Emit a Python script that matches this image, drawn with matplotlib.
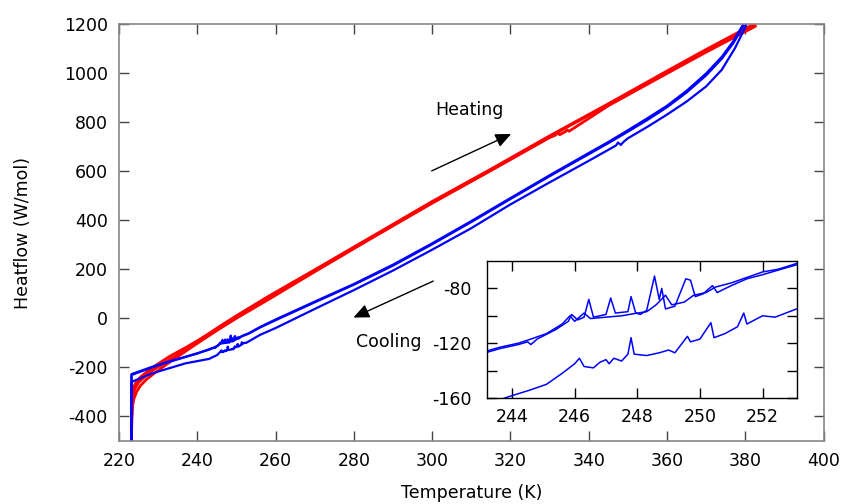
import matplotlib
matplotlib.use("Agg")
import matplotlib.pyplot as plt
from matplotlib.ticker import MultipleLocator, FixedLocator

plt.rcParams['font.family'] = ['DejaVu Sans']
plt.rcParams['axes.unicode_minus'] = False

# ---------------- data (temperature K, heatflow W/mol) ----------------
# heating runs (red)
heat_a_T = [223.2, 223.2, 223.4, 223.8, 224.5, 225.5, 227.0, 229.0, 232.0, 235.0, 238.0,
            241.0, 245.0, 250.0, 258.0, 270.0, 284.0, 300.0, 315.0, 330.0, 331.5, 332.0,
            332.6, 334.0, 334.5, 335.0, 345.0, 360.0, 370.0, 382.5]
heat_a_Q = [-500, -420, -365, -330, -300, -275, -250, -225, -190, -157, -124,
            -92, -50, 0, 75, 190, 322, 470, 603, 738, 748, 758,
            750, 762, 769, 764, 868, 1000, 1087, 1192]

heat_b_T = [223.2, 223.3, 223.5, 224.0, 225.0, 226.5, 228.5, 231.0, 234.0, 237.0, 240.0,
            243.0, 246.0, 250.0, 258.0, 270.0, 284.0, 300.0, 315.0, 330.0, 345.0, 360.0,
            370.0, 382.5]
heat_b_Q = [-500, -400, -330, -290, -262, -240, -214, -188, -158, -128, -97,
            -65, -33, 8, 85, 195, 325, 474, 606, 742, 872, 1005,
            1093, 1196]

heat_c_T = [223.2, 223.4, 223.8, 224.5, 225.5, 227.5, 230.0, 233.0, 237.0, 240.0,
            243.0, 246.0, 250.0, 258.0, 270.0, 284.0, 300.0, 315.0, 330.0, 345.0,
            360.0, 370.0, 382.0]
heat_c_Q = [-440, -330, -280, -258, -240, -214, -186, -155, -120, -92,
            -62, -30, 10, 88, 198, 328, 477, 609, 745, 876,
            1010, 1098, 1200]

# cooling runs (blue), listed in ascending temperature
cool_a_T = [223.2, 223.2, 225.0, 228.5, 232.0, 237.0, 240.0, 243.0, 243.6, 244.2, 244.5,
            244.6, 244.8, 245.4, 245.8, 245.9, 246.1, 246.3, 246.45, 246.6, 247.0,
            247.15, 247.3, 247.7, 247.8, 247.95, 248.1, 248.3, 248.55, 248.7, 248.78,
            248.9, 249.2, 249.55, 249.7, 249.85, 250.1, 250.4, 250.55, 251.0, 251.5,
            252.0, 252.6, 253.2, 256.0, 260.0, 270.0, 280.0, 290.0, 300.0, 310.0,
            320.0, 330.0, 340.0, 345.0, 350.0, 355.0, 360.0, 365.0, 370.0, 374.0,
            377.0, 379.0, 380.5]
cool_a_Q = [-500, -228, -218, -198, -180, -157, -143, -128, -124, -121, -119,
            -121, -117, -110, -104, -99, -103, -101, -88, -101, -99,
            -87, -98, -97, -86, -98, -99, -96, -71, -88, -80,
            -95, -93, -73, -74, -86, -84, -78, -83, -78, -73,
            -70, -66, -62, -38, -8, 65, 137, 215, 302, 393,
            487, 580, 670, 715, 762, 810, 862, 922, 992, 1060,
            1125, 1180, 1220]

cool_b_T = [223.2, 223.2, 225.0, 228.5, 232.0, 237.0, 240.0, 243.0, 243.6, 244.2, 244.6,
            245.1, 245.6, 245.85, 246.0, 246.3, 246.5, 247.0, 247.5, 248.0, 248.3,
            248.6, 248.9, 249.1, 249.5, 249.8, 250.2, 250.5, 251.0, 251.5, 252.0,
            252.5, 253.2, 256.0, 260.0, 270.0, 280.0, 290.0, 300.0, 310.0, 320.0,
            330.0, 340.0, 345.0, 350.0, 355.0, 360.0, 365.0, 370.0, 374.0, 377.0,
            379.0, 380.5]
cool_b_Q = [-500, -232, -221, -200, -182, -158, -144, -127, -123, -120, -117,
            -113, -106, -100, -104, -98, -102, -101, -100, -98, -97,
            -92, -85, -92, -90, -85, -83, -79, -76, -72, -68,
            -66, -61, -36, -5, 68, 140, 219, 306, 397, 491,
            584, 675, 720, 768, 817, 868, 929, 1000, 1068, 1133,
            1188, 1225]

cool_c_T = [223.2, 223.2, 225.0, 228.5, 232.0, 237.0, 240.0, 243.0, 243.9, 244.6, 245.1,
            245.6, 246.0, 246.15, 246.3, 246.6, 246.8, 247.0, 247.1, 247.25, 247.5,
            247.7, 247.8, 247.9, 248.3, 248.7, 249.0, 249.2, 249.6, 249.7, 250.0,
            250.35, 250.45, 250.8, 251.2, 251.4, 251.5, 252.0, 252.4, 253.2, 256.0,
            260.0, 270.0, 280.0, 290.0, 300.0, 310.0, 320.0, 330.0, 340.0, 345.0,
            347.0, 347.5, 348.2, 349.0, 350.0, 355.0, 360.0, 365.0, 370.0, 374.0,
            377.4, 379.9, 381.0]
cool_c_Q = [-500, -260, -248, -225, -208, -184, -175, -166, -159, -154, -150,
            -142, -135, -131, -137, -138, -134, -132, -135, -131, -133,
            -128, -116, -128, -129, -127, -125, -127, -115, -119, -117,
            -105, -116, -113, -108, -98, -106, -100, -101, -94, -68,
            -40, 38, 115, 195, 280, 368, 465, 555, 643, 688,
            706, 718, 708, 722, 735, 782, 832, 885, 947, 1015,
            1104, 1185, 1230]

heating = [(heat_a_T, heat_a_Q), (heat_b_T, heat_b_Q), (heat_c_T, heat_c_Q)]
cooling = [(cool_a_T, cool_a_Q), (cool_b_T, cool_b_Q), (cool_c_T, cool_c_Q)]

RED = '#ff0000'
BLUE = '#0000ff'

fig = plt.figure(figsize=(8.45, 5.04), dpi=100)
ax = fig.add_axes([0.1408, 0.1256, 0.9746 - 0.1408, 0.9514 - 0.1256])

for (T, Q) in heating:
    ax.plot(T, Q, color=RED, lw=2.0, solid_joinstyle='round')
for (T, Q) in cooling:
    ax.plot(T, Q, color=BLUE, lw=1.6, solid_joinstyle='round')

ax.set_xlim(220, 400)
ax.set_ylim(-500, 1200)
ax.xaxis.set_major_locator(MultipleLocator(20))
ax.yaxis.set_major_locator(MultipleLocator(200))
ax.tick_params(direction='in', length=7, width=1, color='#444444',
               top=True, right=True, labelsize=12.5, pad=8)
for s in ax.spines.values():
    s.set_color('#888888')
    s.set_linewidth(1.2)
ax.set_xlabel('Temperature (K)', fontsize=12.5, labelpad=10)
ax.set_ylabel('Heatflow (W/mol)', fontsize=12.5, labelpad=23)

# annotations
arrow_style = dict(arrowstyle='-|>, head_length=0.95, head_width=0.42',
                   color='black', lw=1.0, shrinkA=0, shrinkB=0)
ax.annotate('', xy=(320.2, 753), xytext=(299.9, 602), arrowprops=arrow_style)
ax.text(309.5, 850, 'Heating', fontsize=12.5, ha='center', va='center')
ax.annotate('', xy=(279.9, 3), xytext=(300.3, 152), arrowprops=arrow_style)
ax.text(288.8, -98, 'Cooling', fontsize=12.5, ha='center', va='center')

# inset zoom on the cooling anomalies
ins = fig.add_axes([487 / 845, 1 - 398 / 504, 310 / 845, 137 / 504])
for (T, Q) in cooling:
    ins.plot(T, Q, color=BLUE, lw=1.1)
ins.set_xlim(243.2, 253.1)
ins.set_ylim(-160, -60)
ins.xaxis.set_major_locator(MultipleLocator(2))
ins.yaxis.set_major_locator(FixedLocator([-160, -140, -120, -100, -80]))
ins.set_yticklabels(['-160', '', '-120', '', '-80'])
ins.tick_params(direction='in', length=7, width=1, color='black',
                top=True, right=True, labelsize=12.5, pad=7)
ins.tick_params(axis='y', pad=11)
for s in ins.spines.values():
    s.set_color('black')
    s.set_linewidth(1.0)

fig.savefig('out.png', dpi=100)
